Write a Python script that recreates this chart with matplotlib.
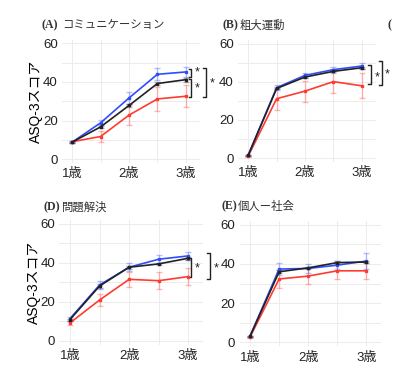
import numpy as np
import matplotlib
matplotlib.use("Agg")
import matplotlib.pyplot as plt
from matplotlib.ticker import MultipleLocator

# ── Data ──────────────────────────────────────────────────────────────────────
AGES = [1, 1.5, 2, 2.5, 3]
AGE_TICKS = [1, 2, 3]
AGE_LABELS = ["1歳", "2歳", "3歳"]

TAGS = ["(A)", "(B)", "(D)", "(E)"]
TITLES = ["コミュニケーション", "粗大運動", "問題解決", "個人ー社会"]

blue_A  = [8.8, 18.8, 31.7, 44.0, 45.2]
black_A = [8.8, 16.7, 27.8, 39.2, 41.2]
red_A   = [9.0, 11.7, 22.8, 31.2, 32.6]
blue_A_err  = [0.5, 1.7, 3.0, 3.0, 2.5]
black_A_err = [0.3, 0.8, 1.0, 1.0, 1.0]
red_A_err   = [0.5, 2.8, 5.0, 6.4, 5.7]

blue_B  = [1.5, 37.0, 43.5, 46.5, 48.4]
black_B = [1.5, 36.6, 42.6, 45.6, 47.5]
red_B   = [1.0, 31.2, 35.2, 40.2, 38.0]
blue_B_err  = [0.3, 1.2, 1.5, 1.5, 1.5]
black_B_err = [0.2, 0.5, 0.5, 0.5, 0.5]
red_B_err   = [0.3, 6.0, 5.5, 6.2, 6.5]

blue_D  = [11.5, 28.7, 37.8, 41.9, 43.6]
black_D = [11.0, 28.2, 37.8, 39.5, 42.4]
red_D   = [9.3, 21.0, 31.6, 30.9, 33.0]
blue_D_err  = [1.0, 2.0, 2.0, 2.0, 2.0]
black_D_err = [0.5, 0.8, 0.8, 0.6, 0.8]
red_D_err   = [1.2, 3.3, 3.9, 4.5, 4.3]

blue_E  = [3.0, 37.4, 37.7, 39.4, 41.5]
black_E = [3.0, 36.0, 38.0, 40.7, 41.0]
red_E   = [2.5, 32.3, 33.8, 36.5, 36.5]
blue_E_err  = [0.3, 3.0, 2.5, 2.0, 4.0]
black_E_err = [0.2, 0.8, 0.6, 0.6, 0.6]
red_E_err   = [0.3, 4.5, 4.0, 4.0, 4.0]

# significance brackets: (x, y_top, y_bottom, star_y)
SIG_A = [(3.10, 46.6, 42.5, 45.0), (3.10, 41.4, 32.1, 36.8), (3.36, 47.0, 32.0, 39.4)]
SIG_B = [(3.16, 49.0, 39.0, 42.6), (3.35, 51.0, 38.4, 44.0)]
SIG_D = [(3.05, 42.4, 32.6, 37.4), (3.37, 45.0, 32.0, 37.4)]
SIG_E = []

# ── Style ─────────────────────────────────────────────────────────────────────
JP_SANS = ["Liberation Sans", "Noto Sans CJK JP"]
JP_SERIF = ["Liberation Serif", "Noto Sans CJK JP"]
plt.rcParams["font.family"] = JP_SANS

BLUE, BLACK, RED = "#2f4dff", "#222222", "#ff3b2f"
GRID = "#ececec"

DPI = 100
W, H = 393, 389
fig = plt.figure(figsize=(W / DPI, H / DPI), dpi=DPI)

# axes boxes in pixels: left, right, top, bottom
BOXES = [(62, 200, 39.6, 162.9), (238, 376, 40.2, 161.8),
         (59.4, 203, 220, 344.9), (239.5, 381, 221, 346)]
TITLE_POS = [(42, 25, 62), (222, 25, 240), (43, 207, 62), (221, 206, 238)]

panels = [
    (blue_A, black_A, red_A, blue_A_err, black_A_err, red_A_err, SIG_A),
    (blue_B, black_B, red_B, blue_B_err, black_B_err, red_B_err, SIG_B),
    (blue_D, black_D, red_D, blue_D_err, black_D_err, red_D_err, SIG_D),
    (blue_E, black_E, red_E, blue_E_err, black_E_err, red_E_err, SIG_E),
]

for i, (box, panel) in enumerate(zip(BOXES, panels)):
    l, r, t, b = box
    ax = fig.add_axes([l / W, 1 - b / H, (r - l) / W, (b - t) / H])
    blue, black, red, be, ke, re_, sig = panel

    for y, e, c in [(red, re_, RED), (blue, be, BLUE), (black, ke, BLACK)]:
        ax.errorbar(AGES, y, yerr=e, fmt="none", ecolor=c, alpha=0.35,
                    elinewidth=1.0, capsize=2.5, capthick=1.0)
        ax.plot(AGES, y, color=c, lw=1.2, marker="s", ms=2.0, zorder=3)

    ax.set_xlim(0.82, 3.25)
    ax.set_ylim(-2, 62)
    ax.set_xticks(AGE_TICKS)
    ax.set_xticklabels(AGE_LABELS)
    ax.xaxis.set_minor_locator(MultipleLocator(0.5))
    ax.set_yticks([0, 20, 40, 60])
    ax.yaxis.set_minor_locator(MultipleLocator(10))
    ax.grid(True, which="both", color=GRID, lw=0.7)
    ax.set_axisbelow(True)
    for s in ax.spines.values():
        s.set_visible(False)
    ax.tick_params(which="both", length=0, labelsize=9.5, colors="#222222")
    ax.tick_params(axis="y", pad=3)
    ax.tick_params(axis="x", pad=4)

    tx, ty, jx = TITLE_POS[i]
    fig.text(tx / W, 1 - ty / H, TAGS[i], family=JP_SERIF, fontsize=8.5,
             fontweight="bold", color="#333333", va="center", ha="left")
    fig.text(jx / W, 1 - ty / H, TITLES[i], family=JP_SANS, fontsize=8.2,
             color="#333333", va="center", ha="left")

    if i in (0, 2):
        ax.set_ylabel("ASQ-3スコア", fontsize=10, labelpad=0)

    for x, yt, yb, ys in sig:
        ax.plot([x - 0.05, x, x, x - 0.05], [yt, yt, yb, yb], color="#222222",
                lw=1.0, clip_on=False)
        ax.text(x + 0.06, ys, "*", fontsize=9, ha="left", va="center",
                clip_on=False, color="#222222")

# next panel tag, cut by the right edge as in the source
fig.text(387 / W, 1 - 25 / H, "(", family=JP_SERIF, fontsize=8.5,
         fontweight="bold", color="#333333", va="center", ha="left")

fig.savefig("out.png", dpi=DPI)
